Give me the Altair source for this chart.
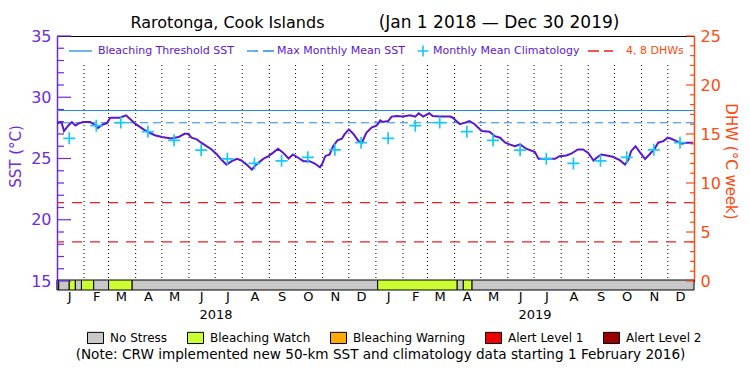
import altair as alt
import pandas as pd

# ---------------- data ----------------
TITLE_LEFT = "Rarotonga, Cook Islands"
TITLE_RIGHT = "(Jan 1 2018 \u2014 Dec 30 2019)"
NOTE = "(Note: CRW implemented new 50-km SST and climatology data starting 1 February 2016)"
SST_TITLE = "SST (\u00b0C)"
DHW_TITLE = "DHW (\u00b0C week)"
legend_labels = ["Bleaching Threshold SST", "Max Monthly Mean SST",
                 "Monthly Mean Climatology", "4, 8 DHWs"]

# daily SST (days since 2018-01-01, degC)
sst_days = [0, 5, 8, 13, 17, 21, 25, 30, 38, 42, 47, 53, 57, 61, 72, 79, 84, 89, 99, 106,
            112, 120, 131, 139, 146, 150, 154, 160, 165, 177, 183, 188, 194, 200, 206, 211,
            217, 223, 228, 236, 242, 247, 253, 259, 265, 270, 276, 282, 289, 295, 301, 304,
            307, 312, 316, 321, 326, 329, 334, 339, 345, 349, 354, 360, 366, 370, 373, 379,
            383, 389, 396, 404, 410, 414, 419, 426, 430, 438, 450, 453, 461, 467, 472, 478,
            486, 495, 501, 507, 513, 518, 524, 530, 537, 547, 551, 560, 570, 575, 583, 589,
            596, 602, 608, 614, 619, 623, 629, 636, 644, 650, 654, 657, 662, 667, 673, 678,
            684, 688, 694, 699, 703, 709, 715, 720, 728]
sst_values = [27.87, 27.98, 27.24, 27.70, 27.97, 27.70, 27.87, 27.98, 27.98, 27.80, 27.50,
              27.80, 27.87, 28.33, 28.33, 28.52, 28.20, 27.87, 27.38, 27.10, 26.90, 26.75,
              26.64, 26.75, 27.02, 27.02, 26.70, 26.56, 26.29, 25.74, 25.33, 24.92, 24.50,
              24.78, 24.97, 24.84, 24.50, 24.10, 24.50, 24.97, 25.19, 25.46, 25.80, 25.46,
              25.00, 25.33, 25.06, 24.78, 24.78, 24.59, 24.29, 24.64, 25.19, 25.33, 26.00,
              26.48, 26.61, 26.97, 27.38, 27.02, 26.42, 26.29, 27.10, 27.52, 27.70, 28.11,
              27.98, 28.06, 28.42, 28.47, 28.42, 28.52, 28.42, 28.69, 28.42, 28.69, 28.47,
              28.42, 28.42, 28.33, 27.80, 27.93, 28.06, 27.80, 27.24, 27.19, 26.83, 26.70,
              26.29, 26.15, 26.00, 26.15, 25.80, 25.52, 24.97, 24.97, 24.97, 25.19, 25.25,
              25.41, 25.74, 25.74, 25.46, 24.84, 25.14, 25.33, 25.25, 25.14, 24.86, 24.50,
              24.92, 25.60, 26.00, 25.52, 24.97, 25.33, 25.80, 26.29, 26.42, 26.70, 26.61,
              26.42, 26.20, 26.29, 26.29]

years = [2018, 2019]
month_letters = ["J", "F", "M", "A", "M", "J", "J", "A", "S", "O", "N", "D"]
clim_values = [26.65, 27.68, 27.93, 27.19, 26.48, 25.68, 24.97, 24.60, 24.81, 25.10, 25.71, 26.29]

bleaching_threshold = 28.92
max_monthly_mean = 27.92
dhw_levels = [4, 8]

stress_names = ["No Stress", "Bleaching Watch", "Bleaching Warning", "Alert Level 1", "Alert Level 2"]
stress_colors = ["#C8C8C8", "#CCFF33", "#FFAA00", "#EE0000", "#990000"]
stress_start = [0, 2, 14, 21, 28, 42, 59, 86, 367, 458, 465, 475]
stress_end = [2, 14, 21, 28, 42, 59, 86, 367, 458, 465, 475, 729]
stress_level = ["Bleaching Watch", "No Stress", "Bleaching Watch", "No Stress", "Bleaching Watch",
                "No Stress", "Bleaching Watch", "No Stress", "Bleaching Watch", "No Stress",
                "Bleaching Watch", "No Stress"]

sst_major = [15, 20, 25, 30, 35]
sst_minor = [v for v in range(16, 35) if v % 5]
dhw_major = [0, 5, 10, 15, 20, 25]
dhw_minor = [v for v in range(1, 25) if v % 5]

# ---------------- styles ----------------
FONT = "DejaVu Sans"
PURPLE = "#5A18CC"
AXIS_PURPLE = "#6A2BE2"
BLUE = "#1E8BEA"
CYAN = "#18C8F8"
RED = "#F01E1E"
ORANGE = "#FF4A10"
W, H = 637, 245

def d2s(d):
    return (pd.Timestamp("2018-01-01") + pd.Timedelta(days=int(d))).strftime("%Y-%m-%d")

sst_df = pd.DataFrame({"date": [d2s(d) for d in sst_days], "sst": sst_values})
clim_df = pd.DataFrame({
    "date": [f"{y}-{m:02d}-15" for y in years for m in range(1, 13)],
    "sst": clim_values * len(years)})
month_df = pd.DataFrame({"date": [f"{y}-{m:02d}-01" for y in years for m in range(1, 13)
                                  if not (y == years[0] and m == 1)]})
year_df = pd.DataFrame({"date": [f"{y}-07-02" for y in years], "label": [str(y) for y in years]})
stress_df = pd.DataFrame({"start": [d2s(d) for d in stress_start],
                          "end": [d2s(d) for d in stress_end],
                          "level": stress_level})

x_scale = alt.Scale(type="utc", domain=[alt.DateTime(year=2018, month=1, date=1, utc=True),
                                        alt.DateTime(year=2019, month=12, date=31, utc=True)])
letters_js = "[" + ",".join(f"'{c}'" for c in month_letters) + "]"
x_axis = alt.Axis(values=[alt.DateTime(year=y, month=m, date=15, utc=True)
                          for y in years for m in range(1, 13)],
                  labelExpr=f"{letters_js}[utcmonth(datum.value)]",
                  ticks=False, domain=False, grid=False, title=None, labelAngle=0,
                  labelPadding=9, labelFontSize=13, labelFont=FONT, labelColor="black",
                  labelOverlap=False)

def X(field="date"):
    return alt.X(f"{field}:T", scale=x_scale, axis=x_axis)

sst_scale = alt.Scale(domain=[15, 35], nice=False, zero=False)
sst_axis = alt.Axis(orient="left", values=sst_major, ticks=False, tickSize=0, grid=False,
                    title=None, labelPadding=6, labelFontSize=16, labelFont=FONT,
                    labelColor=AXIS_PURPLE, domainColor=AXIS_PURPLE, domainWidth=1.5)
dhw_scale = alt.Scale(domain=[0, 25], nice=False, zero=True)
dhw_axis = alt.Axis(orient="right", values=dhw_major, ticks=False, tickSize=0, grid=False,
                    title=None, labelPadding=6, labelFontSize=16, labelFont=FONT,
                    labelColor=ORANGE, domainColor=ORANGE, domainWidth=1.5)

def YS():
    return alt.Y("sst:Q", scale=sst_scale, axis=sst_axis)

def YD():
    return alt.Y("dhw:Q", scale=dhw_scale, axis=dhw_axis)

# ---------------- SST group ----------------
thr = alt.Chart(pd.DataFrame({"sst": [bleaching_threshold]})).mark_rule(
    color=BLUE, strokeWidth=1.2).encode(y=YS())
mmm = alt.Chart(pd.DataFrame({"sst": [max_monthly_mean]})).mark_rule(
    color=BLUE, strokeWidth=1.2, strokeDash=[8, 5]).encode(y=YS())
sst_line = alt.Chart(sst_df).mark_line(color=PURPLE, strokeWidth=2).encode(x=X(), y=YS())
clim = alt.Chart(clim_df).mark_point(shape="M-1,0H1M0,-1V1", filled=False, size=144,
                                     color=CYAN, strokeWidth=1.7, opacity=1).encode(x=X(), y=YS())
sst_tmaj = alt.Chart(pd.DataFrame({"sst": sst_major})).mark_rule(
    color=AXIS_PURPLE, strokeWidth=1.2).encode(y=YS(), x=alt.value(0), x2=alt.value(14))
sst_tmin = alt.Chart(pd.DataFrame({"sst": sst_minor})).mark_rule(
    color=AXIS_PURPLE, strokeWidth=1.2).encode(y=YS(), x=alt.value(0), x2=alt.value(7))
sst_group = alt.layer(thr, mmm, sst_tmaj, sst_tmin, sst_line, clim)

# ---------------- DHW group ----------------
dhw_lines = alt.Chart(pd.DataFrame({"dhw": dhw_levels})).mark_rule(
    color=RED, strokeWidth=1.3, strokeDash=[10, 8]).encode(y=YD())
dhw_tmaj = alt.Chart(pd.DataFrame({"dhw": dhw_major})).mark_rule(
    color=ORANGE, strokeWidth=1.2).encode(y=YD(), x=alt.value(W - 8), x2=alt.value(W))
dhw_tmin = alt.Chart(pd.DataFrame({"dhw": dhw_minor})).mark_rule(
    color=ORANGE, strokeWidth=1.2).encode(y=YD(), x=alt.value(W - 4), x2=alt.value(W))
dhw_group = alt.layer(dhw_lines, dhw_tmaj, dhw_tmin)

# ---------------- other layers ----------------
month_rules = alt.Chart(month_df).mark_rule(color="black", strokeWidth=1, strokeDash=[1, 3]).encode(
    x=X(), y=alt.value(29), y2=alt.value(H))

stress = alt.Chart(stress_df).mark_rect(stroke="black", strokeWidth=1).encode(
    x=X("start"), x2="end:T", y=alt.value(H - 1), y2=alt.value(H + 9),
    color=alt.Color("level:N", scale=alt.Scale(domain=stress_names, range=stress_colors),
                    legend=alt.Legend(orient="none", legendX=30, legendY=293,
                                      direction="horizontal", title=None,
                                      symbolType="M-1,-0.7H1V0.7H-1Z", symbolSize=256,
                                      symbolStrokeColor="black", symbolStrokeWidth=1,
                                      symbolOpacity=1, labelFont=FONT, labelFontSize=12,
                                      labelColor="black", labelOffset=6, columnPadding=17)))

years_txt = alt.Chart(year_df).mark_text(font=FONT, fontSize=13, color="black",
                                         baseline="middle", align="center").encode(
    x=X(), y=alt.value(278.5), text="label:N")

def txt(label, x, y, size, color="black", align="left", baseline="middle", angle=0):
    return alt.Chart(pd.DataFrame({"t": [label]})).mark_text(
        font=FONT, fontSize=size, color=color, align=align, baseline=baseline, angle=angle
    ).encode(x=alt.value(x), y=alt.value(y), text="t:N")

def seg(x1, x2, y, color, dash=None):
    kw = dict(color=color, strokeWidth=1.3)
    if dash:
        kw["strokeDash"] = dash
    return alt.Chart(pd.DataFrame({"t": [0]})).mark_rule(**kw).encode(
        x=alt.value(x1), x2=alt.value(x2), y=alt.value(y))

legend_cross = alt.Chart(pd.DataFrame({"t": [0]})).mark_point(
    shape="M-1,0H1M0,-1V1", filled=False, size=120, color=CYAN, strokeWidth=1.6, opacity=1
).encode(x=alt.value(366), y=alt.value(15))

annots = [
    txt(TITLE_LEFT, 170.5, -8, 16, baseline="alphabetic", align="center"),
    txt(TITLE_RIGHT, 442, -8, 17, baseline="alphabetic", align="center"),
    seg(12, 35, 15, BLUE),
    txt(legend_labels[0], 41, 15, 11, color=PURPLE),
    seg(190, 219, 15, BLUE, [11, 5]),
    txt(legend_labels[1], 220, 15, 11, color=PURPLE),
    legend_cross,
    txt(legend_labels[2], 376, 15, 11, color=PURPLE),
    seg(531, 556, 15, RED, [11, 5]),
    txt(legend_labels[3], 569, 15, 11, color=ORANGE),
    txt(SST_TITLE, -41, 120.5, 15, color=AXIS_PURPLE, align="center", angle=270),
    txt(DHW_TITLE, 674, 125.5, 15, color=ORANGE, align="center", angle=90),
    txt(NOTE, 323.5, 319, 13.6, align="center"),
    seg(0, 0, 0, AXIS_PURPLE).encode(y=alt.value(H), y2=alt.value(H + 9)),
]

chart = alt.layer(
    month_rules, stress, sst_group, dhw_group, years_txt, *annots
).resolve_scale(y="independent").properties(
    width=W, height=H,
    padding={"left": 57, "top": 36, "right": 56, "bottom": 94},
    autosize=alt.AutoSizeParams(type="none"),
).configure_view(stroke="black", strokeWidth=1)

chart.save("out.html", embed_options={"renderer": "svg", "actions": False})
